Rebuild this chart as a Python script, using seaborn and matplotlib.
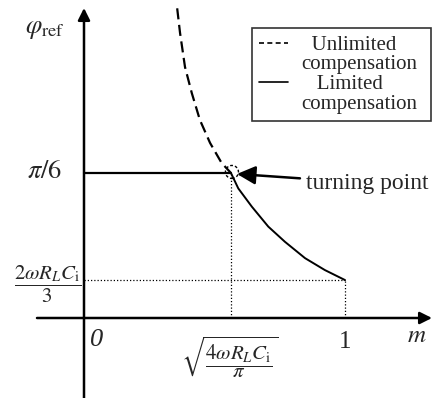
import numpy as np
import pandas as pd
import seaborn as sns
import matplotlib
matplotlib.use("Agg")
import matplotlib.pyplot as plt
from matplotlib.patches import Ellipse
from matplotlib.lines import Line2D

# ---- data ----
m_unlimited = [0.357, 0.368, 0.387, 0.413, 0.444, 0.483, 0.527, 0.563]
phi_unlimited = [1.118, 1.029, 0.906, 0.812, 0.715, 0.632, 0.560, 0.5236]
m_limited = [0.563, 0.591, 0.643, 0.706, 0.770, 0.847, 0.923, 1.0]
phi_limited = [0.5236, 0.468, 0.402, 0.330, 0.275, 0.216, 0.173, 0.137]
m_turn = 0.563
phi_turn = np.pi / 6
m_end = 1.0
phi_end = 0.137
legend_labels = ["Unlimited", "compensation", "Limited", "compensation"]

sns.set_style("white")
plt.rcParams["font.family"] = ["Liberation Serif", "DejaVu Serif"]
plt.rcParams["mathtext.fontset"] = "stix"

fig = plt.figure(figsize=(4.32, 3.98), dpi=100)
ax = fig.add_axes([0, 0, 1, 1])
ax.set_xlim(-84 / 261, 348 / 261)
ax.set_ylim(-80 / 277, 318 / 277)
ax.axis("off")

df_u = pd.DataFrame({"m": m_unlimited, "phi": phi_unlimited})
df_l = pd.DataFrame({"m": m_limited, "phi": phi_limited})
sns.lineplot(data=df_u, x="m", y="phi", ax=ax, color="black", lw=1.6,
             sort=False, estimator=None)
ax.lines[-1].set_dashes([5, 2.5])
sns.lineplot(data=df_l, x="m", y="phi", ax=ax, color="black", lw=1.4,
             sort=False, estimator=None)

# horizontal solid at pi/6
ax.plot([0, m_turn], [phi_turn, phi_turn], color="black", lw=1.6)
# dotted guides
dot = (0, (1, 1.6))
ax.plot([m_turn, m_turn], [0, phi_turn], color="black", lw=0.9, ls=dot)
ax.plot([0, m_end], [phi_end, phi_end], color="black", lw=0.9, ls=dot)
ax.plot([m_end, m_end], [0, phi_end], color="black", lw=0.9, ls=dot)

# axes arrows
ax.annotate("", xy=(348 / 261, 0), xytext=(-47 / 261, 0),
            arrowprops=dict(arrowstyle="-|>", color="black", lw=1.8,
                            mutation_scale=18, shrinkA=0, shrinkB=0))
ax.annotate("", xy=(0, 310 / 277), xytext=(0, -80 / 277),
            arrowprops=dict(arrowstyle="-|>", color="black", lw=1.8,
                            mutation_scale=18, shrinkA=0, shrinkB=0))

# turning point circle
ax.add_patch(Ellipse((m_turn + 1 / 261, phi_turn + 1 / 277), 13 / 261, 13 / 277,
                     fill=False, ls=(0, (2, 1.5)), lw=1.0, color="black"))
ax.annotate("turning point", xy=(m_turn + 6 / 261, phi_turn - 1 / 277),
            xytext=(306, 398 - 183), textcoords="figure pixels",
            fontsize=17, va="center", ha="left",
            arrowprops=dict(arrowstyle="-|>", color="black", lw=1.8,
                            mutation_scale=28, shrinkA=2, shrinkB=0))

# labels
ax.text(45, 398 - 30, r"$\varphi_{\rm ref}$", transform=None, fontsize=19,
        ha="center", va="center")
ax.text(45, 398 - 172, r"$\pi/6$", transform=None, fontsize=19,
        ha="center", va="center")
ax.text(48, 398 - 284, r"$\dfrac{2\omega R_L C_{\rm i}}{3}$", transform=None,
        fontsize=15, ha="center", va="center")
ax.text(97, 398 - 340, "0", transform=None, fontsize=19, style="italic",
        ha="center", va="center")
ax.text(345, 398 - 342, "1", transform=None, fontsize=18,
        ha="center", va="center")
ax.text(417, 398 - 336, r"$m$", transform=None, fontsize=18,
        ha="center", va="center")
ax.text(230, 398 - 357, r"$\sqrt{\dfrac{4\omega R_L C_{\rm i}}{\pi}}$",
        transform=None, fontsize=15, ha="center", va="center")

# legend
blank = Line2D([], [], color="none")
handles = [Line2D([], [], color="black", lw=1.2, dashes=[3, 2]), blank,
           Line2D([], [], color="black", lw=1.2), blank]
labels = ["  " + legend_labels[0], legend_labels[1],
          "   " + legend_labels[2], legend_labels[3]]
leg = ax.legend(handles, labels, loc="upper left",
                bbox_to_anchor=(252 / 432, 1 - 120 / 398, 179 / 432, 92 / 398),
                mode="expand", fontsize=15,
                frameon=True, fancybox=False, edgecolor="black",
                labelspacing=0.0, handlelength=1.4, handletextpad=0.6,
                borderpad=0.35, borderaxespad=0)
leg.get_frame().set_linewidth(1.2)

fig.savefig("out.png", dpi=100)
